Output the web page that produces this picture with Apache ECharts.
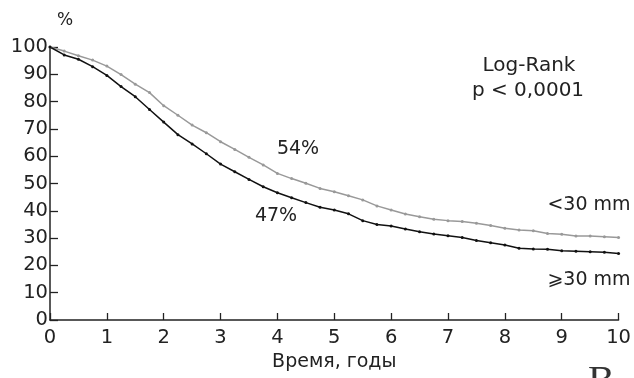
<!DOCTYPE html>
<html>
<head>
<meta charset="utf-8">
<script src="https://cdn.jsdelivr.net/npm/echarts@6/dist/echarts.min.js"></script>
<style>
  html, body { margin: 0; padding: 0; background: #fff; }
  #chart { width: 634px; height: 378px; }
</style>
</head>
<body>
<div id="chart"></div>
<script>
// time points, years
const years = [0, 0.25, 0.5, 0.75, 1, 1.25, 1.5, 1.75, 2, 2.25, 2.5, 2.75, 3, 3.25, 3.5, 3.75,
  4, 4.25, 4.5, 4.75, 5, 5.25, 5.5, 5.75, 6, 6.25, 6.5, 6.75, 7, 7.25, 7.5, 7.75,
  8, 8.25, 8.5, 8.75, 9, 9.25, 9.5, 9.75, 10]

// survival, %  (<30 mm — grey)
const smallTumor = [100, 98.5, 96.8, 95.2, 93.0, 89.9, 86.4, 83.3, 78.5, 75.0, 71.4, 68.6, 65.3, 62.5, 59.6, 56.8,
  53.7, 51.8, 50.1, 48.2, 47.0, 45.5, 44.0, 41.8, 40.3, 38.8, 37.8, 36.9, 36.4, 36.1, 35.4, 34.6,
  33.6, 33.0, 32.7, 31.7, 31.4, 30.8, 30.8, 30.5, 30.2]

// survival, %  (>=30 mm — black)
const largeTumor = [100, 97.1, 95.5, 92.8, 89.6, 85.5, 81.8, 77.1, 72.5, 67.9, 64.5, 60.9, 57.1, 54.3, 51.5, 48.8,
  46.6, 44.8, 43.0, 41.3, 40.3, 38.9, 36.4, 35.0, 34.4, 33.3, 32.3, 31.5, 30.9, 30.2, 29.1, 28.3,
  27.5, 26.3, 26.0, 25.9, 25.4, 25.2, 25.0, 24.8, 24.4]

const seriesNames = ['<30 mm', '⩾30 mm']

const font = 'DejaVu Sans'
const axisColor = '#222'

const chart = echarts.init(document.getElementById('chart'))

const pairs = (ys) => years.map((x, i) => [x, ys[i]])

chart.setOption({
  animation: false,
  grid: { left: 50, right: 15, top: 47, bottom: 58 },
  xAxis: {
    type: 'value',
    min: 0,
    max: 10,
    interval: 1,
    name: 'Время, годы',
    nameLocation: 'middle',
    nameGap: 33,
    nameTextStyle: { fontFamily: font, fontSize: 19, color: axisColor },
    axisLine: { show: true, lineStyle: { color: axisColor, width: 1.5 } },
    axisTick: { show: true, inside: true, length: 7, lineStyle: { color: axisColor, width: 1.3 } },
    axisLabel: { fontFamily: font, fontSize: 19.5, color: axisColor, margin: 8 },
    splitLine: { show: false }
  },
  yAxis: {
    type: 'value',
    min: 0,
    max: 100,
    interval: 10,
    axisLine: { show: true, lineStyle: { color: axisColor, width: 1.5 } },
    axisTick: { show: true, inside: true, length: 8, lineStyle: { color: axisColor, width: 1.3 } },
    axisLabel: { fontFamily: font, fontSize: 19.5, color: axisColor, margin: 2 },
    splitLine: { show: false }
  },
  series: [{
    name: seriesNames[0],
    type: 'line',
    data: pairs(smallTumor),
    symbol: 'circle',
    symbolSize: 3,
    lineStyle: { color: '#999', width: 1.5 },
    itemStyle: { color: '#999' }
  }, {
    name: seriesNames[1],
    type: 'line',
    data: pairs(largeTumor),
    symbol: 'circle',
    symbolSize: 3,
    lineStyle: { color: '#111', width: 1.5 },
    itemStyle: { color: '#111' }
  }],
  graphic: [
    { type: 'text', left: 57, top: 12, style: { text: '%', font: '17px "DejaVu Sans"', fill: axisColor } },
    { type: 'text', x: 529, y: 66, style: { text: 'Log-Rank', font: '20px "DejaVu Sans"', fill: axisColor, align: 'center', verticalAlign: 'middle' } },
    { type: 'text', x: 528, y: 91, style: { text: 'p < 0,0001', font: '20px "DejaVu Sans"', fill: axisColor, align: 'center', verticalAlign: 'middle' } },
    { type: 'text', x: 298, y: 149, style: { text: '54%', font: '19px "DejaVu Sans"', fill: axisColor, align: 'center', verticalAlign: 'middle' } },
    { type: 'text', x: 276, y: 216, style: { text: '47%', font: '19px "DejaVu Sans"', fill: axisColor, align: 'center', verticalAlign: 'middle' } },
    { type: 'text', x: 589, y: 205, style: { text: seriesNames[0], font: '19px "DejaVu Sans"', fill: axisColor, align: 'center', verticalAlign: 'middle' } },
    { type: 'text', x: 589, y: 280, style: { text: seriesNames[1], font: '19px "DejaVu Sans"', fill: axisColor, align: 'center', verticalAlign: 'middle' } },
    { type: 'text', left: 588, top: 362, style: { text: 'В', font: '40px "Liberation Serif"', fill: '#333' } }
  ]
})
</script>
</body>
</html>
